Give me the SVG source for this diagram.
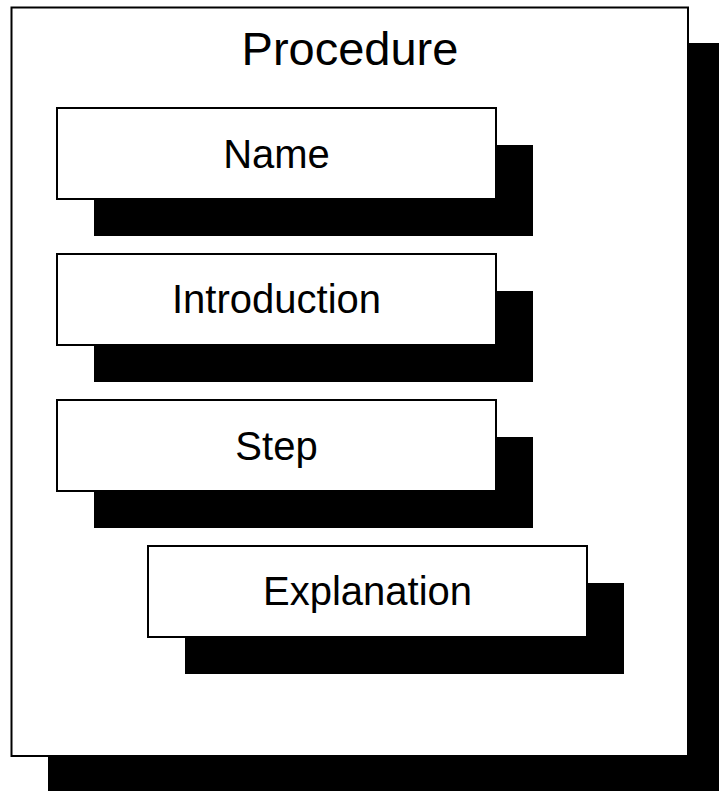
<svg xmlns="http://www.w3.org/2000/svg" width="719" height="791" viewBox="0 0 719 791">
<style>
.shadow{fill:#000;stroke:none}
.box{fill:#fff;stroke:#000;stroke-width:2}
.lbl{font-family:"Liberation Sans",Arial,sans-serif;fill:#000;text-anchor:middle}
</style>
<rect x="0" y="0" width="719" height="791" fill="#fff"/>
<g id="procedure">
<rect class="shadow" x="48" y="43" width="677" height="749"/>
<rect class="box" x="11.5" y="7.5" width="676.5" height="748.5"/>
<text class="lbl" x="350" y="65" font-size="47">Procedure</text>
</g>
<g id="name">
<rect class="shadow" x="94" y="145" width="439" height="91"/>
<rect class="box" x="57" y="108" width="439" height="91"/>
<text class="lbl" x="276.5" y="168" font-size="40">Name</text>
</g>
<g id="introduction">
<rect class="shadow" x="94" y="291" width="439" height="91"/>
<rect class="box" x="57" y="254" width="439" height="91"/>
<text class="lbl" x="276.5" y="313" font-size="40">Introduction</text>
</g>
<g id="step">
<rect class="shadow" x="94" y="437" width="439" height="91"/>
<rect class="box" x="57" y="400" width="439" height="91"/>
<text class="lbl" x="276.5" y="460" font-size="40">Step</text>
</g>
<g id="explanation">
<rect class="shadow" x="185" y="583" width="439" height="91"/>
<rect class="box" x="148" y="546" width="439" height="91"/>
<text class="lbl" x="367.5" y="605" font-size="40">Explanation</text>
</g>
<g id="connectors"></g>
</svg>
